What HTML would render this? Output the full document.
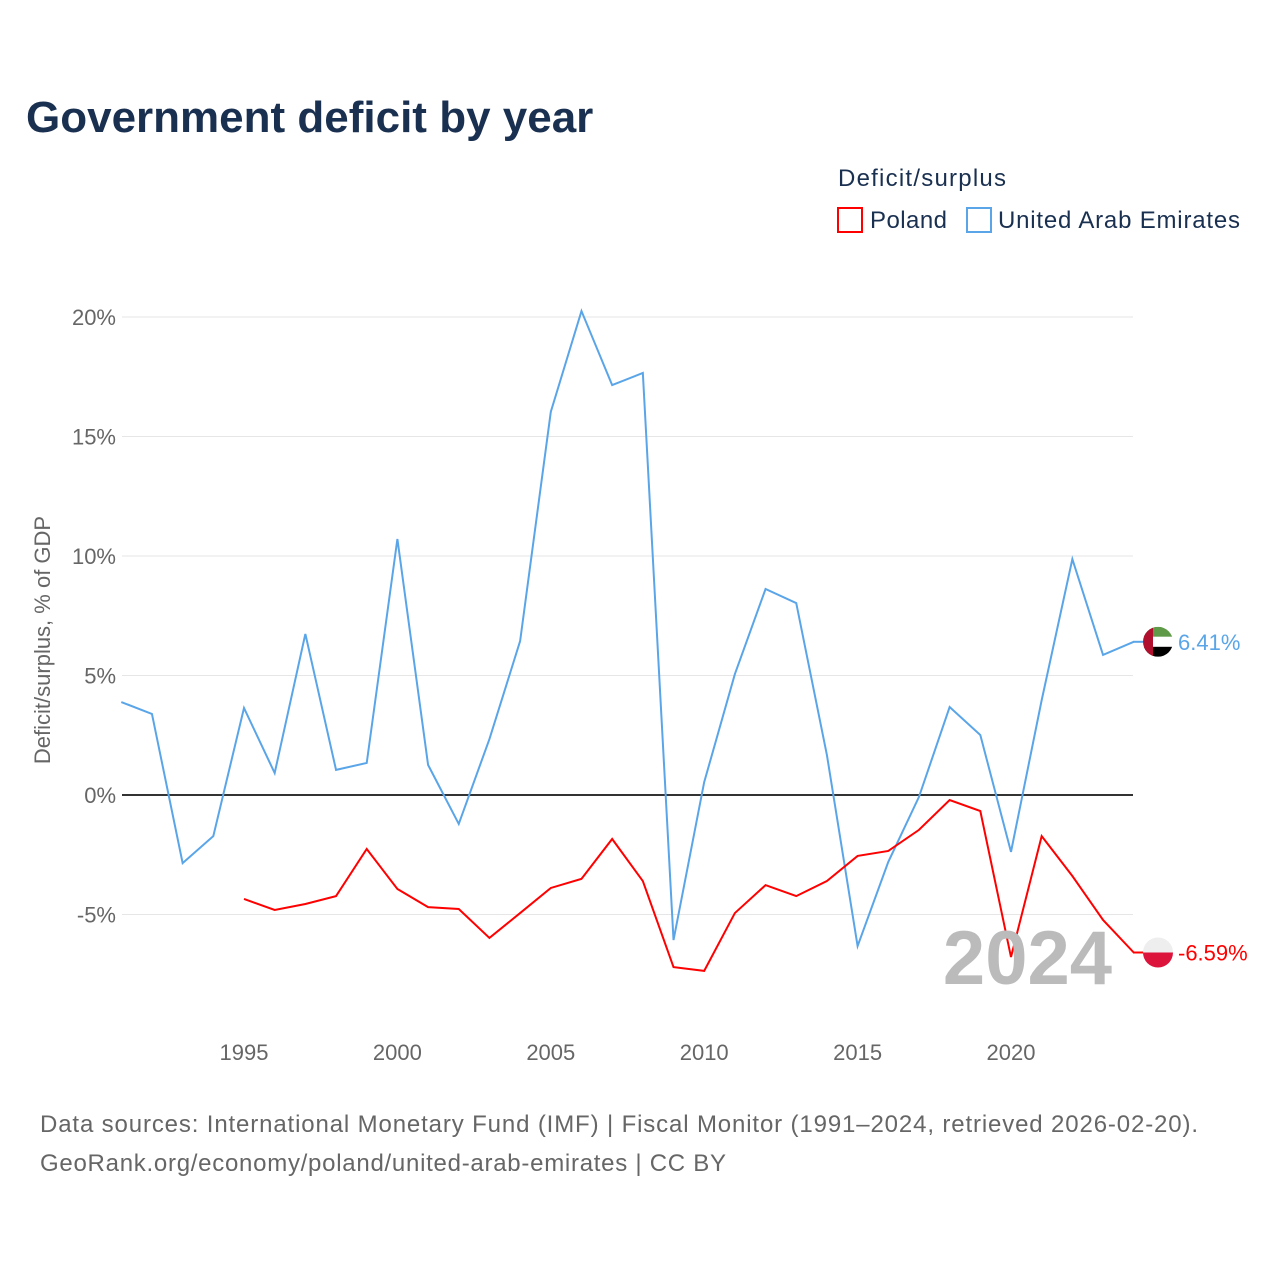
<!DOCTYPE html>
<html><head><meta charset="utf-8">
<style>
body{margin:0;background:#fff;font-family:"Liberation Sans",sans-serif;}
svg{display:block}
</style></head>
<body>
<svg id="chart" width="1280" height="1280" xmlns="http://www.w3.org/2000/svg">
<text x="26" y="132" font-size="44" font-weight="bold" fill="#1a3050">Government deficit by year</text>
<text x="838" y="186" font-size="24" fill="#1a3050" textLength="168">Deficit/surplus</text>
<g><rect x="838" y="208" width="24" height="24" fill="none" stroke="#ff0000" stroke-width="2"/><text x="870" y="228" font-size="24" fill="#1a3050" textLength="77">Poland</text></g>
<g><rect x="967" y="208" width="24" height="24" fill="none" stroke="#5aa5e8" stroke-width="2"/><text x="998" y="228" font-size="24" fill="#1a3050" textLength="242">United Arab Emirates</text></g>
<text transform="translate(50,640) rotate(-90)" text-anchor="middle" font-size="22" fill="#666">Deficit/surplus, % of GDP</text>
<g id="grid"></g><g id="series"></g>
<text x="1112" y="984" text-anchor="end" font-size="76" font-weight="bold" fill="#bbb">2024</text>
<text x="40" y="1132" font-size="24" fill="#666" textLength="1158">Data sources: International Monetary Fund (IMF) | Fiscal Monitor (1991–2024, retrieved 2026-02-20).</text>
<text x="40" y="1171" font-size="24" fill="#666" textLength="686">GeoRank.org/economy/poland/united-arab-emirates | CC BY</text>
</svg>
<script>
const years=[];for(let y=1991;y<=2024;y++)years.push(y);
const uae=[3.89,3.39,-2.85,-1.72,3.64,0.92,6.74,1.05,1.34,10.71,1.26,-1.21,2.34,6.44,16.03,20.25,17.15,17.66,-6.07,0.54,5.06,8.62,8.03,1.67,-6.32,-2.8,-0.08,3.68,2.51,-2.38,3.97,9.87,5.86,6.41];
const polandYears=[];for(let y=1995;y<=2024;y++)polandYears.push(y);
const poland=[-4.35,-4.81,-4.56,-4.23,-2.26,-3.93,-4.69,-4.77,-5.98,-4.94,-3.89,-3.51,-1.84,-3.6,-7.2,-7.36,-4.94,-3.77,-4.23,-3.6,-2.55,-2.34,-1.46,-0.21,-0.67,-6.78,-1.72,-3.39,-5.23,-6.59];
const yTicks=[-5,0,5,10,15,20];
const xTicks=[1995,2000,2005,2010,2015,2020];
const NS="http://www.w3.org/2000/svg";
const xs=y=>244+(y-1995)*30.68;
const ys=v=>795-v*23.9;
function mk(t,a,p){const e=document.createElementNS(NS,t);for(const k in a)e.setAttribute(k,a[k]);p.appendChild(e);return e;}
const grid=document.getElementById('grid'),ser=document.getElementById('series');
yTicks.forEach(v=>{
 const l=mk('line',{x1:122,x2:1133,y1:ys(v),y2:ys(v),stroke:v===0?'#333':'#e6e6e6','stroke-width':v===0?2:1},grid);
 
 
 const t=mk('text',{x:116,y:ys(v)+8,'text-anchor':'end','font-size':22,fill:'#666'},grid);
 t.textContent=v+'%';
 
 
});
xTicks.forEach(y=>{
 const t=mk('text',{x:xs(y),y:1060,'text-anchor':'middle','font-size':22,fill:'#666'},grid);
 t.textContent=y;
 
 
});
function line(xv,vals,color,name){
 const p=mk('polyline',{points:vals.map((v,i)=>xs(xv[i])+','+ys(v)).join(' '),fill:'none',stroke:color,'stroke-width':2},ser);
 
 
}
line(years,uae,'#5aa5e8','uae-line');
line(polandYears,poland,'#ff0000','poland-line');
const uv=uae[uae.length-1],pv=poland[poland.length-1];
const ug=mk('g',{},ser);


const cx=1158,uy=ys(uv);
const cp=mk('clipPath',{id:'cu'},ug);
mk('circle',{cx:cx,cy:uy,r:15},cp);
const gg=mk('g',{'clip-path':'url(#cu)'},ug);
mk('rect',{x:cx-15,y:uy-15,width:30,height:10,fill:'#5e9a48'},gg);
mk('rect',{x:cx-15,y:uy-5,width:30,height:10,fill:'#fff'},gg);
mk('rect',{x:cx-15,y:uy+5,width:30,height:10,fill:'#000'},gg);
mk('rect',{x:cx-15,y:uy-15,width:10,height:30,fill:'#b0102e'},gg);
mk('line',{x1:1133,x2:1143,y1:uy,y2:uy,stroke:'#5aa5e8','stroke-width':2},ug);
const ut=mk('text',{x:1178,y:uy+8,'font-size':22,fill:'#5aa5e8'},ser);
ut.textContent=uv.toFixed(2)+'%';


const pg=mk('g',{},ser);


const py=ys(pv);
mk('line',{x1:1133,x2:1143,y1:py,y2:py,stroke:'#ff0000','stroke-width':2},pg);
mk('path',{d:`M${cx-15},${py} A15,15 0 0 1 ${cx+15},${py} Z`,fill:'#eee'},pg);
mk('path',{d:`M${cx-15},${py} A15,15 0 0 0 ${cx+15},${py} Z`,fill:'#dc143c'},pg);
const pt=mk('text',{x:1178,y:py+8,'font-size':22,fill:'#ff0000'},ser);
pt.textContent=pv.toFixed(2)+'%';


</script>
</body></html>
